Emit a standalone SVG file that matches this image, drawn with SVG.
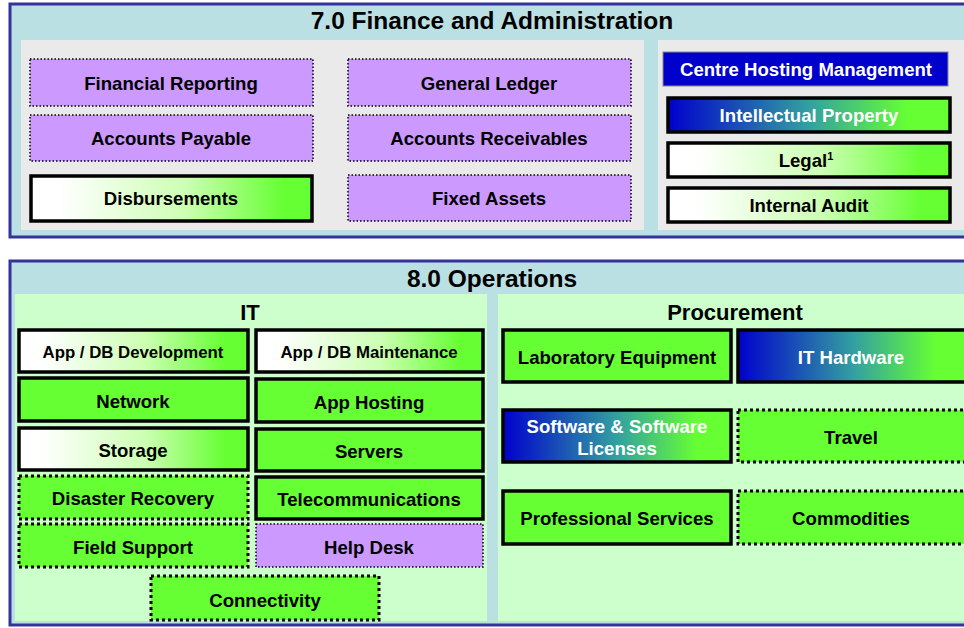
<svg xmlns="http://www.w3.org/2000/svg" width="964" height="628" viewBox="0 0 964 628">
<defs>
<linearGradient id="wg" x1="0" y1="0" x2="1" y2="0">
<stop offset="0.1" stop-color="#FFFFFF"/>
<stop offset="0.55" stop-color="#CCFFB3"/>
<stop offset="0.9" stop-color="#66FF33"/>
</linearGradient>
<linearGradient id="bg" x1="0" y1="0" x2="1" y2="0">
<stop offset="0" stop-color="#0000CC"/>
<stop offset="0.5" stop-color="#33A0A0"/>
<stop offset="0.85" stop-color="#66FF33"/>
</linearGradient>
<style>
text{font-family:"Liberation Sans",Arial,sans-serif;font-weight:bold;text-anchor:middle;fill:#000}
.frame{fill:#BBE0E3;stroke:#333399;stroke-width:3}
.gray{fill:#EAEAEA}
.lg{fill:#CCFFCC}
.pur{fill:#CC99FF;stroke:#000;stroke-width:1.5;stroke-dasharray:1.5 2}
.gd{fill:#66FF33;stroke:#000;stroke-width:3;stroke-dasharray:3 3}
.gs{fill:#66FF33;stroke:#000;stroke-width:3.5}
.ws{fill:url(#wg);stroke:#000;stroke-width:3.5}
.bs{fill:url(#bg);stroke:#000;stroke-width:3.5}
.blue{fill:#0000CC;stroke:#888;stroke-width:1}
.t{font-size:18.6px}
.ts{font-size:16.8px}
.w{fill:#FFFFFF}
.h1{font-size:24.5px}
.h2{font-size:22px}
</style>
</defs>

<g id="finance-panel">
<rect class="frame" x="10" y="4" width="960" height="233"/>
<text class="h1" x="492" y="29">7.0 Finance and Administration</text>
<rect class="gray" x="21" y="40" width="623" height="190"/>
<rect class="gray" x="658" y="40" width="310" height="190"/>
</g>

<g id="financial-reporting"><rect class="pur" x="30" y="59" width="283" height="47"/><text class="t" x="171" y="90">Financial Reporting</text></g>
<g id="accounts-payable"><rect class="pur" x="30" y="115" width="283" height="46"/><text class="t" x="171" y="145">Accounts Payable</text></g>
<g id="disbursements"><rect class="ws" x="31" y="176" width="281" height="45"/><text class="t" x="171" y="205">Disbursements</text></g>
<g id="general-ledger"><rect class="pur" x="348" y="59" width="283" height="47"/><text class="t" x="489" y="90">General Ledger</text></g>
<g id="accounts-receivables"><rect class="pur" x="348" y="115" width="283" height="46"/><text class="t" x="489" y="145">Accounts Receivables</text></g>
<g id="fixed-assets"><rect class="pur" x="348" y="175" width="283" height="46"/><text class="t" x="489" y="205">Fixed Assets</text></g>
<g id="centre-hosting"><rect class="blue" x="663" y="52" width="285" height="34"/><text class="t w" x="806" y="76">Centre Hosting Management</text></g>
<g id="intellectual-property"><rect class="bs" x="668" y="98" width="282" height="34"/><text class="t w" x="809" y="122">Intellectual Property</text></g>
<g id="legal"><rect class="ws" x="668" y="143" width="282" height="34"/><text class="t" x="806" y="167">Legal<tspan font-size="11" dy="-7">1</tspan></text></g>
<g id="internal-audit"><rect class="ws" x="668" y="188" width="282" height="34"/><text class="t" x="809" y="212">Internal Audit</text></g>

<g id="operations-panel">
<rect class="frame" x="10" y="261" width="960" height="364"/>
<text class="h1" x="492" y="287">8.0 Operations</text>
<rect class="lg" x="15" y="294" width="472" height="327"/>
<rect class="lg" x="498" y="294" width="470" height="327"/>
<text class="h2" x="250" y="320">IT</text>
<text class="h2" x="735" y="320">Procurement</text>
</g>

<g id="app-db-dev"><rect class="ws" x="19" y="330" width="229" height="42"/><text class="ts" x="133" y="358">App / DB Development</text></g>
<g id="app-db-maint"><rect class="ws" x="256" y="330" width="227" height="42"/><text class="ts" x="369" y="358">App / DB Maintenance</text></g>
<g id="network"><rect class="gs" x="19" y="378" width="229" height="43"/><text class="t" x="133" y="408">Network</text></g>
<g id="app-hosting"><rect class="gs" x="256" y="379" width="227" height="43"/><text class="t" x="369" y="409">App Hosting</text></g>
<g id="storage"><rect class="ws" x="19" y="428" width="229" height="42"/><text class="t" x="133" y="457">Storage</text></g>
<g id="servers"><rect class="gs" x="256" y="429" width="227" height="42"/><text class="t" x="369" y="458">Servers</text></g>
<g id="disaster-recovery"><rect class="gd" x="19" y="476" width="229" height="43"/><text class="t" x="133" y="505">Disaster Recovery</text></g>
<g id="telecommunications"><rect class="gs" x="256" y="477" width="227" height="42"/><text class="t" x="369" y="506">Telecommunications</text></g>
<g id="field-support"><rect class="gd" x="19" y="524" width="229" height="43"/><text class="t" x="133" y="554">Field Support</text></g>
<g id="help-desk"><rect class="pur" x="256" y="524" width="227" height="43"/><text class="t" x="369" y="554">Help Desk</text></g>
<g id="connectivity"><rect class="gd" x="151" y="576" width="228" height="44"/><text class="t" x="265" y="607">Connectivity</text></g>

<g id="lab-equipment"><rect class="gs" x="503" y="330" width="228" height="52"/><text class="t" x="617" y="364">Laboratory Equipment</text></g>
<g id="it-hardware"><rect class="bs" x="738" y="330" width="232" height="52"/><text class="t w" x="851" y="364">IT Hardware</text></g>
<g id="software-licenses"><rect class="bs" x="503" y="410" width="228" height="52"/><text class="t w" x="617" y="433">Software &amp; Software</text><text class="t w" x="617" y="455">Licenses</text></g>
<g id="travel"><rect class="gd" x="738" y="410" width="232" height="52"/><text class="t" x="851" y="444">Travel</text></g>
<g id="professional-services"><rect class="gs" x="503" y="491" width="228" height="53"/><text class="t" x="617" y="525">Professional Services</text></g>
<g id="commodities"><rect class="gd" x="738" y="491" width="232" height="53"/><text class="t" x="851" y="525">Commodities</text></g>

<g id="connectors"></g>
</svg>
